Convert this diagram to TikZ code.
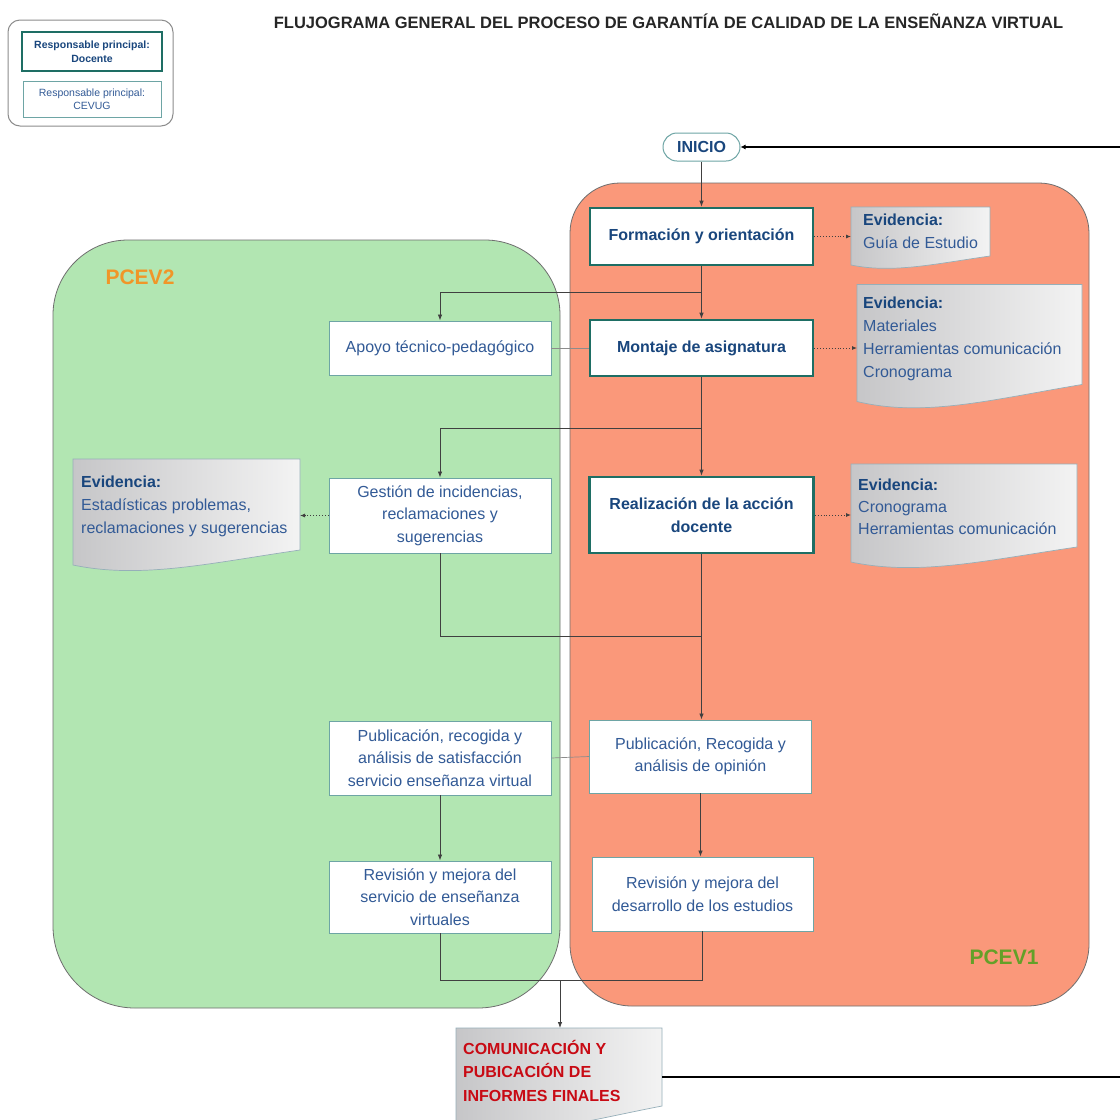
\documentclass[tikz,border=0pt]{standalone}
\usepackage{fontspec}
\setmainfont{Liberation Sans}
\usetikzlibrary{arrows.meta,shapes.misc,calc}
\definecolor{tealb}{RGB}{30,110,100}
\definecolor{teall}{RGB}{110,165,165}
\definecolor{txtb}{RGB}{25,70,125}
\definecolor{txtr}{RGB}{50,90,150}
\definecolor{redreg}{RGB}{250,152,122}
\definecolor{greenreg}{RGB}{178,230,178}
\definecolor{regborder}{RGB}{110,110,110}
\definecolor{pcevor}{RGB}{240,150,40}
\definecolor{pcevgr}{RGB}{100,160,40}
\definecolor{comred}{RGB}{200,10,20}
\definecolor{docl}{RGB}{198,198,200}
\definecolor{docr}{RGB}{243,243,243}
\definecolor{docborder}{RGB}{150,175,185}
\newcommand{\docshape}[2]{%
  \draw[docfill] let \p1=(#1.north west), \p2=(#1.south east) in
    (\x1,\y1) -- (\x2,\y1) -- (\x2,{\y2+#2*1pt})
    .. controls ({\x1+0.6*(\x2-\x1)},{\y2+0.12*#2*1pt}) and ({\x1+0.3*(\x2-\x1)},{\y2-0.95*#2*1pt}) .. (\x1,\y2) -- cycle;}
\begin{document}
\begin{tikzpicture}[x=1pt,y=-1pt,
  docente/.style={draw=tealb, line width=2.6pt, fill=white, font=\fontsize{16}{23}\selectfont\bfseries, text=txtb, align=center, inner sep=0pt},
  cevug/.style={draw=teall, line width=0.9pt, fill=white, font=\fontsize{16}{22.5}\selectfont, text=txtr, align=center, inner sep=0pt},
  flow/.style={draw=black!75, line width=0.8pt, -{Latex[length=6pt,width=4.5pt]}},
  plain/.style={draw=black!75, line width=0.8pt},
  thinlink/.style={draw=black!45, line width=0.7pt},
  evid/.style={draw=black!75, line width=0.9pt, dotted, -{Latex[length=5pt,width=4pt]}},
  feedback/.style={draw=black, line width=2.6pt},
  docbox/.style={inner sep=0pt, outer sep=0pt},
  docfill/.style={draw=docborder, line width=0.7pt, left color=docl, right color=docr},
  doctext/.style={font=\fontsize{16}{23}\selectfont, text=txtr, align=left, inner sep=0pt, anchor=north west},
  region/.style={draw=regborder, line width=0.8pt},
  legendtxt/.style={font=\fontsize{10.5}{13.5}\selectfont, text=txtb, align=center, inner sep=0pt}
]
\useasboundingbox (0,0) rectangle (1120,1120);
\fill[white] (0,0) rectangle (1120,1120);

% regions
\draw[region, fill=greenreg] (53,600) [rounded corners=75pt] -- (53,240) -- (560,240) -- (560,600)
  [rounded corners=82pt] -- (560,1008) -- (53,1008) -- cycle;
\draw[region, fill=redreg] (570,600) [rounded corners=50pt] -- (570,183) -- (1089,183) -- (1089,600)
  [rounded corners=62pt] -- (1089,1006) -- (570,1006) -- cycle;
\node[font=\fontsize{21}{24}\selectfont\bfseries, text=pcevor] (pcev2) at (140,277) {PCEV2};
\node[font=\fontsize{21}{24}\selectfont\bfseries, text=pcevgr] (pcev1) at (1004,957) {PCEV1};

% legend
\draw[draw=black!45, line width=1pt, rounded corners=12pt] (8,20) rectangle (173,126);
\node[docente, minimum width=140, minimum height=39, legendtxt, font=\fontsize{10.5}{13.5}\selectfont\bfseries] (leg1) at (92,51.5) {Responsable principal:\\Docente};
\node[cevug, minimum width=138, minimum height=36, legendtxt, text=txtr] (leg2) at (92,99) {Responsable principal:\\CEVUG};

% title
\node[font=\fontsize{16.5}{19}\selectfont\bfseries, text=black!85] (title) at (668.5,21) {FLUJOGRAMA GENERAL DEL PROCESO DE GARANTÍA DE CALIDAD DE LA ENSEÑANZA VIRTUAL};

% inicio
\node[rounded rectangle, draw=teall, line width=1pt, fill=white, minimum width=77, minimum height=28, inner sep=0pt,
  font=\fontsize{16}{18}\selectfont\bfseries, text=txtb] (inicio) at (701.5,147) {INICIO};

% main boxes (docente)
\node[docente, minimum width=223, minimum height=57] (form) at (701.5,236.5) {Formación y orientación};
\node[docente, minimum width=223, minimum height=56] (mont) at (701.5,348) {Montaje de asignatura};
\node[docente, minimum width=224, minimum height=76] (real) at (701.5,515) {Realización de la acción\\docente};
% cevug boxes
\node[cevug, minimum width=222, minimum height=54] (apoyo) at (440,348) {Apoyo técnico-pedagógico};
\node[cevug, minimum width=222, minimum height=75] (gest) at (440,515.5) {Gestión de incidencias,\\reclamaciones y\\sugerencias};
\node[cevug, minimum width=222, minimum height=74] (publ) at (440,758) {Publicación, recogida y\\análisis de satisfacción\\servicio enseñanza virtual};
\node[cevug, minimum width=222, minimum height=72] (revl) at (440,897) {Revisión y mejora del\\servicio de enseñanza\\virtuales};
\node[cevug, minimum width=222, minimum height=73] (pubr) at (700.5,756.5) {Publicación, Recogida y\\análisis de opinión};
\node[cevug, minimum width=221, minimum height=74] (revr) at (702.5,894) {Revisión y mejora del\\desarrollo de los estudios};

% evidence documents
\node[docbox, minimum width=139, minimum height=58] (e1) at (920.5,236) {};
\docshape{e1}{9}
\node[doctext] (e1t) at (863,214) {\textbf{\color{txtb}Evidencia:}\\Guía de Estudio};

\node[docbox, minimum width=225, minimum height=117] (e2) at (969.5,343) {};
\docshape{e2}{17}
\node[doctext] (e2t) at (863,297) {\textbf{\color{txtb}Evidencia:}\\Materiales\\Herramientas comunicación\\Cronograma};

\node[docbox, minimum width=226, minimum height=98] (e3) at (964,513) {};
\docshape{e3}{15}
\node[doctext, font=\fontsize{16}{22}\selectfont] (e3t) at (858,479) {\textbf{\color{txtb}Evidencia:}\\Cronograma\\Herramientas comunicación};

\node[docbox, minimum width=227, minimum height=106] (e4) at (186.5,512) {};
\docshape{e4}{15}
\node[doctext] (e4t) at (81,476) {\textbf{\color{txtb}Evidencia:}\\Estadísticas problemas,\\reclamaciones y sugerencias};

\node[docbox, minimum width=206, minimum height=96] (e5) at (559,1076) {};
\docshape{e5}{18}
\node[doctext, font=\fontsize{16}{23.5}\selectfont\bfseries, text=comred] (e5t) at (463,1040) {COMUNICACIÓN Y\\PUBICACIÓN DE\\INFORMES FINALES};

% connectors
\draw[flow] (inicio.south) -- (form.north);
\draw[flow] (form.south) -- (mont.north);
\coordinate (b1) at (701.5,292);
\draw[flow] (b1) -| (apoyo.north);
\draw[thinlink] (apoyo.east) -- (mont.west);
\draw[flow] (mont.south) -- (real.north);
\coordinate (b2) at (701.5,428);
\draw[flow] (b2) -| (gest.north);
\draw[evid] (form.east) -- (form.east -| e1.west);
\draw[evid] (mont.east) -- (mont.east -| e2.west);
\draw[evid] (real.east) -- (real.east -| e3.west);
\draw[evid] (gest.west) -- (gest.west -| e4.east);
\draw[flow] (real.south) -- (real.south |- pubr.north);
\coordinate (j1) at (701.5,636);
\draw[plain] (gest.south) |- (j1);
\draw[thinlink] (publ.east) -- (pubr.west);
\draw[flow] (publ.south) -- (revl.north);
\draw[flow] (pubr.south) -- (pubr.south |- revr.north);
\coordinate (j2) at (560,980);
\draw[plain] (revl.south) |- (revr.south |- j2) -- (revr.south);
\draw[flow] (j2) -- (j2 |- e5.north);

% feedback loop
\coordinate (fbtop) at (1120,147);
\coordinate (fbbot) at (1120,1077);
\draw[feedback, -{Latex[length=5pt,width=5pt]}] (fbtop) -- (inicio.east);
\draw[feedback] (e5.east |- fbbot) -- (fbbot);
\end{tikzpicture}
\end{document}
